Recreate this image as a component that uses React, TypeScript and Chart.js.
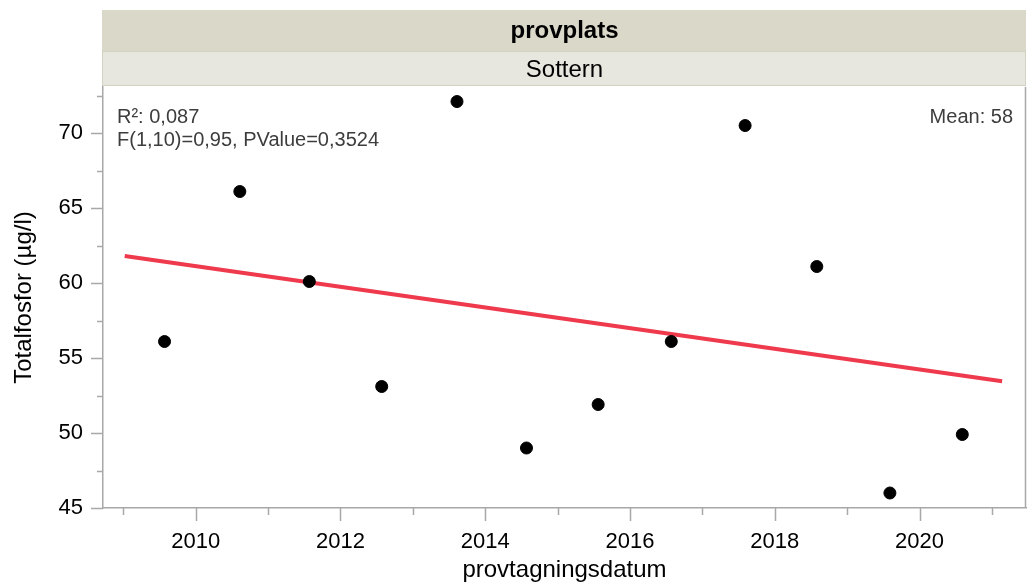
import React, { useEffect, useRef } from "react";
import { Chart, registerables } from "chart.js";

Chart.register(...registerables);

// Data
const sampleYears = [2009.57, 2010.61, 2011.57, 2012.57, 2013.61, 2014.57, 2015.56, 2016.57, 2017.59, 2018.58, 2019.59, 2020.59];
const totalP = [56.1, 66.1, 60.1, 53.1, 72.1, 49.0, 51.9, 56.1, 70.5, 61.1, 46.0, 49.9];
const fitYears = [2009.02, 2021.14];
const fitValues = [61.8, 53.45];
const xMajorTicks = [2010, 2012, 2014, 2016, 2018, 2020];
const xMinorTicks = [2009, 2011, 2013, 2015, 2017, 2019, 2021];
const yMajorTicks = [45, 50, 55, 60, 65, 70];
const yMinorTicks = [47.5, 52.5, 57.5, 62.5, 67.5, 72.5];
const headerTitle = "provplats";
const headerGroup = "Sottern";
const statLines = ["R²: 0,087", "F(1,10)=0,95, PValue=0,3524"];
const meanText = "Mean: 58";

const FONT = "'Liberation Sans', Arial, Helvetica, sans-serif";
const AXIS_COLOR = "#a8a8a8";

const decorPlugin = {
  id: "decor",
  beforeDraw(chart: any) {
    const { ctx, chartArea } = chart;
    const left = chartArea.left - 1;
    const right = chartArea.right;
    ctx.save();
    ctx.fillStyle = "#fff";
    ctx.fillRect(0, 0, chart.width, chart.height);
    // header bands
    ctx.fillStyle = "#dad8c9";
    ctx.fillRect(left, 10, right - left, 41);
    ctx.fillStyle = "#e7e7df";
    ctx.fillRect(left, 51, right - left, 35);
    ctx.strokeStyle = "#d3d1c1";
    ctx.lineWidth = 1;
    ctx.strokeRect(left + 0.5, 51.5, right - left - 1, 34);
    ctx.fillStyle = "#000";
    ctx.textAlign = "center";
    ctx.textBaseline = "middle";
    const cx = (chartArea.left + chartArea.right) / 2;
    ctx.font = `bold 24px ${FONT}`;
    ctx.fillText(headerTitle, cx, 31);
    ctx.font = `24px ${FONT}`;
    ctx.fillText(headerGroup, cx, 70);
    ctx.restore();
  },
  afterDraw(chart: any) {
    const { ctx, chartArea, scales } = chart;
    const xs = scales.x;
    const ys = scales.y;
    ctx.save();
    ctx.strokeStyle = AXIS_COLOR;
    ctx.lineWidth = 1.5;
    // right frame line
    ctx.beginPath();
    ctx.moveTo(chartArea.right - 0.5, chartArea.top);
    ctx.lineTo(chartArea.right - 0.5, chartArea.bottom);
    ctx.stroke();
    // y ticks
    const yl = chartArea.left;
    ctx.beginPath();
    yMajorTicks.forEach((v) => {
      const p = Math.round(ys.getPixelForValue(v)) + 0.5;
      ctx.moveTo(yl - 12, p);
      ctx.lineTo(yl, p);
    });
    yMinorTicks.forEach((v) => {
      const p = Math.round(ys.getPixelForValue(v)) + 0.5;
      ctx.moveTo(yl - 6, p);
      ctx.lineTo(yl, p);
    });
    // x ticks
    const xb = chartArea.bottom;
    xMajorTicks.forEach((v) => {
      const p = Math.round(xs.getPixelForValue(v)) + 0.5;
      ctx.moveTo(p, xb);
      ctx.lineTo(p, xb + 13);
    });
    xMinorTicks.forEach((v) => {
      const p = Math.round(xs.getPixelForValue(v)) + 0.5;
      ctx.moveTo(p, xb);
      ctx.lineTo(p, xb + 7);
    });
    ctx.stroke();
    // stats text
    ctx.fillStyle = "#3d3d3d";
    ctx.font = `20px ${FONT}`;
    ctx.textBaseline = "middle";
    ctx.textAlign = "left";
    statLines.forEach((t, i) => {
      ctx.fillText(t, chartArea.left + 14, chartArea.top + 30 + i * 23);
    });
    ctx.textAlign = "right";
    ctx.fillText(meanText, chartArea.right - 13, chartArea.top + 30);
    ctx.restore();
  },
};

export default function App() {
  const ref = useRef<HTMLCanvasElement | null>(null);
  useEffect(() => {
    if (!ref.current) return;
    const chart = new Chart(ref.current, {
      type: "scatter",
      data: {
        datasets: [
          {
            type: "scatter",
            data: sampleYears.map((x, i) => ({ x, y: totalP[i] })),
            backgroundColor: "#000",
            borderColor: "#000",
            pointRadius: 6,
            pointHoverRadius: 6,
            order: 0,
          },
          {
            type: "line",
            data: fitYears.map((x, i) => ({ x, y: fitValues[i] })),
            borderColor: "#ef3a4d",
            borderWidth: 4,
            pointRadius: 0,
            fill: false,
            order: 1,
          } as any,
        ],
      },
      options: {
        animation: false,
        responsive: false,
        maintainAspectRatio: false,
        devicePixelRatio: 1,
        events: [],
        layout: { autoPadding: false, padding: { top: 87, right: 1, left: 0, bottom: 0 } },
        plugins: { legend: { display: false }, tooltip: { enabled: false } },
        scales: {
          x: {
            type: "linear",
            min: 2008.72,
            max: 2021.47,
            grid: { display: false, drawTicks: false },
            border: { display: true, color: AXIS_COLOR, width: 1.5 },
            afterBuildTicks: (s: any) => {
              s.ticks = xMajorTicks.map((v) => ({ value: v }));
            },
            afterFit: (s: any) => {
              s.height = 80;
              s.paddingLeft = 0;
              s.paddingRight = 0;
            },
            ticks: {
              color: "#000",
              font: { family: FONT, size: 22 },
              padding: 21,
              maxRotation: 0,
              callback: (v: any) => String(v),
            },
            title: {
              display: true,
              text: "provtagningsdatum",
              color: "#000",
              font: { family: FONT, size: 24 },
              padding: { top: 0, bottom: 3 },
            },
          },
          y: {
            type: "linear",
            min: 45,
            max: 73.07,
            grid: { display: false, drawTicks: false },
            border: { display: true, color: AXIS_COLOR, width: 1.5 },
            afterBuildTicks: (s: any) => {
              s.ticks = yMajorTicks.map((v) => ({ value: v }));
            },
            afterFit: (s: any) => {
              s.width = 103;
              s.paddingTop = 0;
              s.paddingBottom = 0;
            },
            ticks: {
              color: "#000",
              font: { family: FONT, size: 22 },
              padding: 20,
              callback: (v: any) => String(v),
            },
            title: {
              display: true,
              text: "Totalfosfor (µg/l)",
              color: "#000",
              font: { family: FONT, size: 24 },
              padding: { top: 10, bottom: 0 },
            },
          },
        },
      },
      plugins: [decorPlugin],
    });
    return () => chart.destroy();
  }, []);
  return (
    <div style={{ position: "absolute", left: 0, top: 0, width: 1027, height: 588, background: "#fff" }}>
      <canvas ref={ref} width={1027} height={588} style={{ display: "block", width: 1027, height: 588 }} />
    </div>
  );
}
